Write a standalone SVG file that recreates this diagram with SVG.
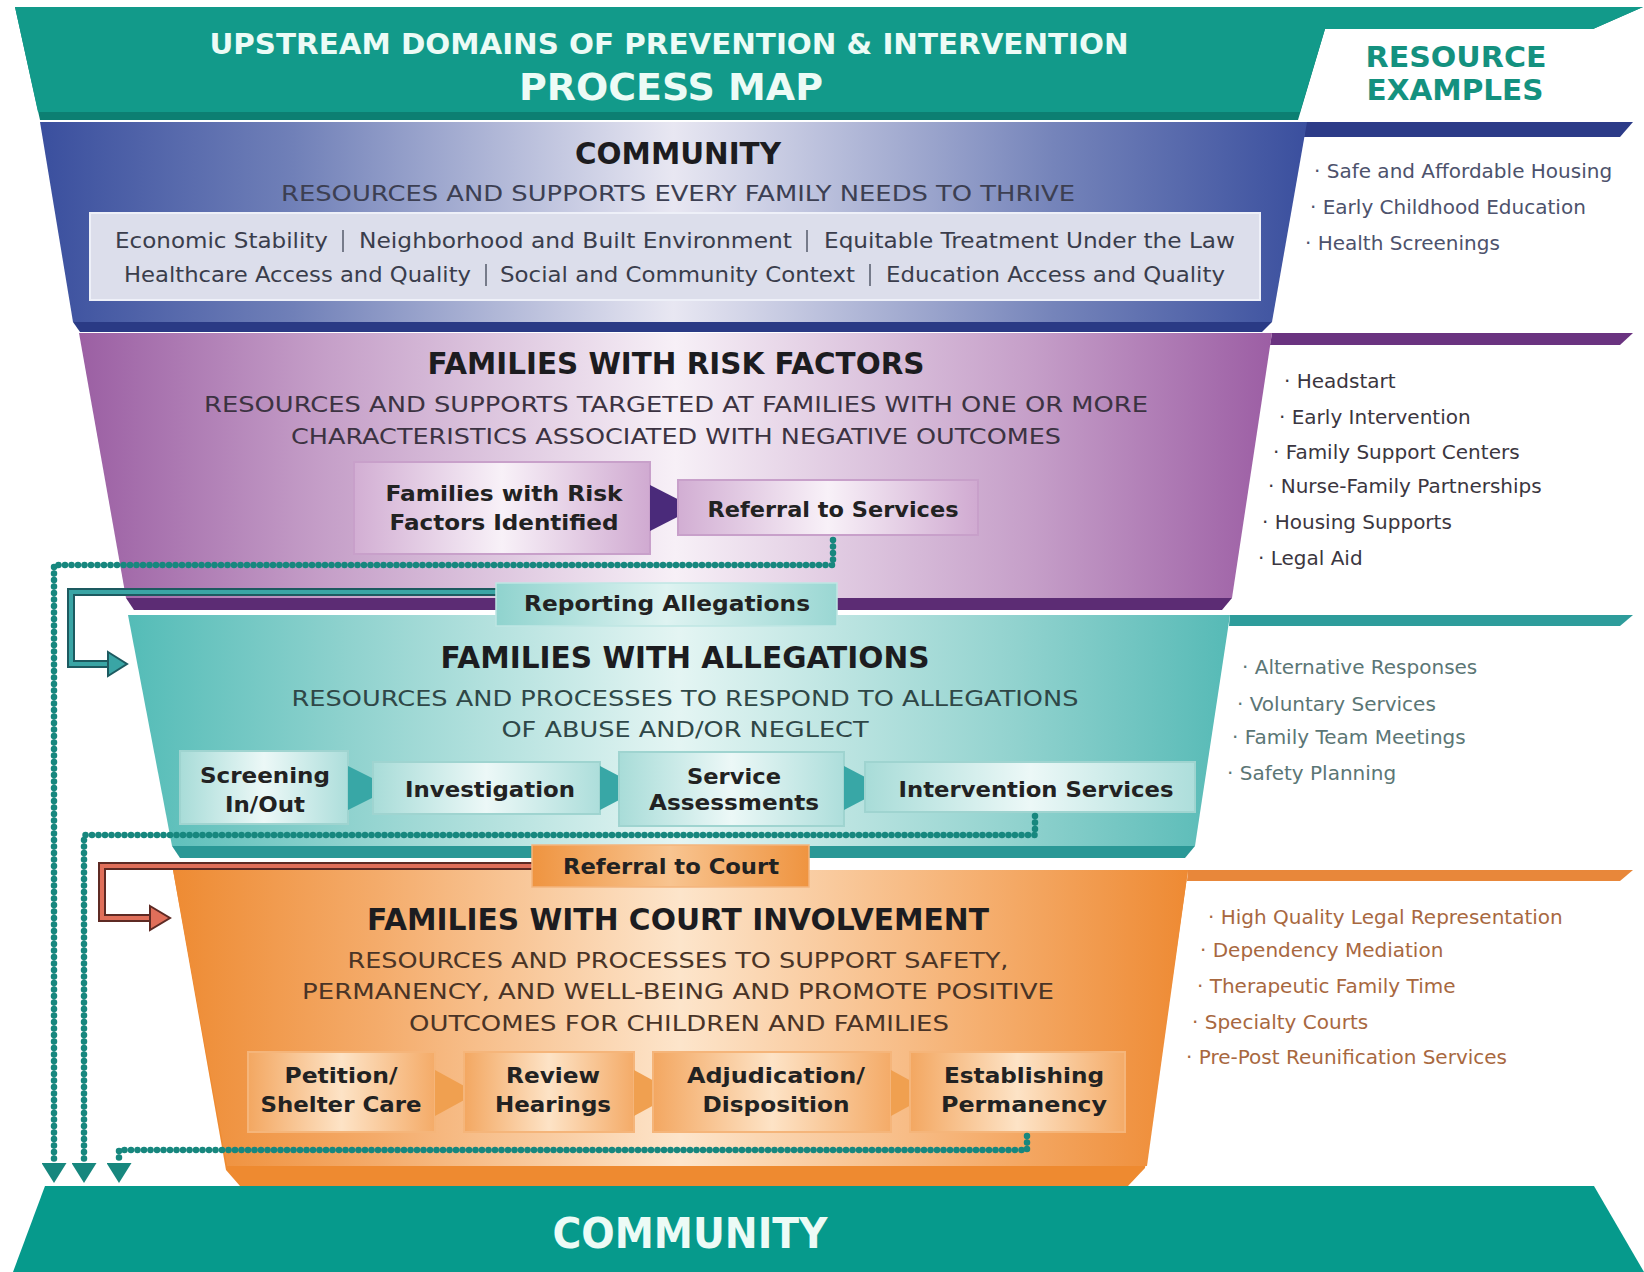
<svg xmlns="http://www.w3.org/2000/svg" width="1644" height="1272" viewBox="0 0 1644 1272">
<defs>
<linearGradient id="gBlue" x1="0" x2="1" y1="0" y2="0">
<stop offset="0" stop-color="#3a4f9e"/><stop offset="0.2" stop-color="#7080b8"/><stop offset="0.5" stop-color="#e8e7f2"/><stop offset="0.8" stop-color="#7584ba"/><stop offset="1" stop-color="#3a4f9e"/>
</linearGradient>
<linearGradient id="gPurple" x1="0" x2="1" y1="0" y2="0">
<stop offset="0" stop-color="#9b5fa3"/><stop offset="0.2" stop-color="#c49dc7"/><stop offset="0.5" stop-color="#f7f0f7"/><stop offset="0.8" stop-color="#c59ec8"/><stop offset="1" stop-color="#9c5ea4"/>
</linearGradient>
<linearGradient id="gTeal" x1="0" x2="1" y1="0" y2="0">
<stop offset="0" stop-color="#54bcb7"/><stop offset="0.2" stop-color="#8fd2ce"/><stop offset="0.5" stop-color="#e4f5f3"/><stop offset="0.8" stop-color="#93d3cf"/><stop offset="1" stop-color="#56bab6"/>
</linearGradient>
<linearGradient id="gOrange" x1="0" x2="1" y1="0" y2="0">
<stop offset="0" stop-color="#ee8b33"/><stop offset="0.2" stop-color="#f4ab6a"/><stop offset="0.5" stop-color="#fde5cb"/><stop offset="0.8" stop-color="#f5ae6e"/><stop offset="1" stop-color="#ee8a33"/>
</linearGradient>
<linearGradient id="gBoxP" x1="0" x2="1" y1="0" y2="0">
<stop offset="0" stop-color="#d2aed3"/><stop offset="0.5" stop-color="#f8f1f8"/><stop offset="1" stop-color="#d0aad1"/>
</linearGradient>
<linearGradient id="gBoxT" x1="0" x2="1" y1="0" y2="0">
<stop offset="0" stop-color="#a8dcd8"/><stop offset="0.5" stop-color="#ecf8f7"/><stop offset="1" stop-color="#addedb"/>
</linearGradient>
<linearGradient id="gBoxO" x1="0" x2="1" y1="0" y2="0">
<stop offset="0" stop-color="#f3a761"/><stop offset="0.5" stop-color="#fde3c6"/><stop offset="1" stop-color="#f4ab68"/>
</linearGradient>
<linearGradient id="gLabT" x1="0" x2="1" y1="0" y2="0">
<stop offset="0" stop-color="#8fd3ce"/><stop offset="0.5" stop-color="#def3f1"/><stop offset="1" stop-color="#9ad7d3"/>
</linearGradient>
<linearGradient id="gLabO" x1="0" x2="1" y1="0" y2="0">
<stop offset="0" stop-color="#ef9440"/><stop offset="0.5" stop-color="#f8c490"/><stop offset="1" stop-color="#ef9440"/>
</linearGradient>
<marker id="mDot" viewBox="0 0 20 25" refX="0" refY="12.5" markerWidth="20" markerHeight="25" markerUnits="userSpaceOnUse" orient="auto">
<path d="M0,0 L20,12.5 L0,25 Z" fill="#17877e"/>
</marker>
<style>
text{font-family:"DejaVu Sans","Liberation Sans",sans-serif;}
.ttl{font-weight:bold;fill:#ecfbf6;text-anchor:middle;}
.hd{font-weight:bold;font-size:30px;fill:#1c1c20;text-anchor:middle;}
.sub{font-size:22px;text-anchor:middle;}
.row{font-size:21px;fill:#3a3d4c;}
.bx{font-weight:bold;font-size:22px;fill:#222;text-anchor:middle;}
.res{font-size:20px;}
.rb{fill:#4d526c;}
.rp{fill:#3b3640;}
.rt{fill:#5b7675;}
.ro{fill:#a8683f;}
.sep{stroke:#555a6a;stroke-width:1.5;}
.dot{fill:none;stroke:#17877e;stroke-width:6.5;stroke-linecap:round;stroke-linejoin:round;stroke-dasharray:0 6.5;marker-end:url(#mDot);}
</style>
</defs>
<rect width="1644" height="1272" fill="#ffffff"/>

<g id="header">
<polygon points="15,7 1643,7 1593,29 1325,29 1298,120 40,120" fill="#0c7f72"/>
<polygon points="15,7 1643,7 1593,29 1325,29 1300,112 38,112" fill="#129a8a"/>
<text class="ttl" x="669" y="54" font-size="28" textLength="919" lengthAdjust="spacingAndGlyphs">UPSTREAM DOMAINS OF PREVENTION &amp; INTERVENTION</text>
<text class="ttl" x="671" y="100" font-size="37" textLength="304" lengthAdjust="spacingAndGlyphs">PROCESS MAP</text>
<text x="1456" y="67" font-size="28" font-weight="bold" fill="#14917f" text-anchor="middle" textLength="181" lengthAdjust="spacingAndGlyphs">RESOURCE</text>
<text x="1455" y="100" font-size="28" font-weight="bold" fill="#14917f" text-anchor="middle" textLength="177" lengthAdjust="spacingAndGlyphs">EXAMPLES</text>
</g>

<g id="band-community">
<polygon points="1305,122 1633,122 1620,137 1304,137" fill="#2c3b88"/>
<polygon points="80,332 1262,332 1272,322 73,322" fill="#2a3a85"/>
<polygon points="40,122 1307,122 1272,322 73,322" fill="url(#gBlue)"/>
<text class="hd" x="678" y="164" textLength="206" lengthAdjust="spacingAndGlyphs">COMMUNITY</text>
<text class="sub" x="678" y="201" fill="#3c3f52" textLength="794" lengthAdjust="spacingAndGlyphs">RESOURCES AND SUPPORTS EVERY FAMILY NEEDS TO THRIVE</text>
<rect x="90" y="213" width="1170" height="87" fill="#dcdeeb" stroke="#eef0f8" stroke-width="2"/>
<text class="row" x="115" y="248" textLength="213" lengthAdjust="spacingAndGlyphs">Economic Stability</text>
<line class="sep" x1="343" y1="230" x2="343" y2="252"/>
<text class="row" x="359" y="248" textLength="433" lengthAdjust="spacingAndGlyphs">Neighborhood and Built Environment</text>
<line class="sep" x1="807" y1="230" x2="807" y2="252"/>
<text class="row" x="824" y="248" textLength="411" lengthAdjust="spacingAndGlyphs">Equitable Treatment Under the Law</text>
<text class="row" x="124" y="282" textLength="347" lengthAdjust="spacingAndGlyphs">Healthcare Access and Quality</text>
<line class="sep" x1="486" y1="264" x2="486" y2="286"/>
<text class="row" x="500" y="282" textLength="355" lengthAdjust="spacingAndGlyphs">Social and Community Context</text>
<line class="sep" x1="870" y1="264" x2="870" y2="286"/>
<text class="row" x="886" y="282" textLength="339" lengthAdjust="spacingAndGlyphs">Education Access and Quality</text>
</g>

<g id="res-community" class="res rb">
<text x="1314" y="178">· Safe and Affordable Housing</text>
<text x="1310" y="214">· Early Childhood Education</text>
<text x="1305" y="250">· Health Screenings</text>
</g>

<g id="band-risk">
<polygon points="1272,333 1633,333 1620,345 1270,345" fill="#6a3380"/>
<polygon points="126,598 1232,598 1222,610 134,610" fill="#5c2c74"/>
<polygon points="79,333 1272,333 1232,598 126,598" fill="url(#gPurple)"/>
<text class="hd" x="676" y="374" textLength="497" lengthAdjust="spacingAndGlyphs">FAMILIES WITH RISK FACTORS</text>
<text class="sub" x="676" y="412" fill="#3c3342" textLength="944" lengthAdjust="spacingAndGlyphs">RESOURCES AND SUPPORTS TARGETED AT FAMILIES WITH ONE OR MORE</text>
<text class="sub" x="676" y="444" fill="#3c3342" textLength="770" lengthAdjust="spacingAndGlyphs">CHARACTERISTICS ASSOCIATED WITH NEGATIVE OUTCOMES</text>
</g>

<g id="node-risk-identified">
<rect x="354" y="462" width="296" height="92" fill="url(#gBoxP)" stroke="#c8a0ca" stroke-width="2"/>
<text class="bx" x="504" y="501" textLength="237" lengthAdjust="spacingAndGlyphs">Families with Risk</text>
<text class="bx" x="504" y="530" textLength="229" lengthAdjust="spacingAndGlyphs">Factors Identified</text>
</g>
<polygon id="arrow-risk" points="650,485 695,508 650,531" fill="#4a2a7a"/>
<g id="node-referral-services">
<rect x="678" y="480" width="300" height="55" fill="url(#gBoxP)" stroke="#c8a0ca" stroke-width="2"/>
<text class="bx" x="833" y="517" textLength="251" lengthAdjust="spacingAndGlyphs">Referral to Services</text>
</g>

<g id="res-risk" class="res rp">
<text x="1284" y="388">· Headstart</text>
<text x="1279" y="424">· Early Intervention</text>
<text x="1273" y="459">· Family Support Centers</text>
<text x="1268" y="493">· Nurse-Family Partnerships</text>
<text x="1262" y="529">· Housing Supports</text>
<text x="1258" y="565">· Legal Aid</text>
</g>

<g id="band-allegations">
<polygon points="1230,615 1633,615 1620,626 1229,626" fill="#2e9c9b"/>
<polygon points="172,846 1195,846 1185,858 180,858" fill="#2a9896"/>
<polygon points="128,615 1230,615 1195,846 172,846" fill="url(#gTeal)"/>
<text class="hd" x="685" y="668" textLength="489" lengthAdjust="spacingAndGlyphs">FAMILIES WITH ALLEGATIONS</text>
<text class="sub" x="685" y="706" fill="#2f4747" textLength="787" lengthAdjust="spacingAndGlyphs">RESOURCES AND PROCESSES TO RESPOND TO ALLEGATIONS</text>
<text class="sub" x="685" y="737" fill="#2f4747" textLength="367" lengthAdjust="spacingAndGlyphs">OF ABUSE AND/OR NEGLECT</text>
</g>

<g id="node-screening">
<rect x="180" y="751" width="168" height="73" fill="url(#gBoxT)" stroke="#9fd4d0" stroke-width="2"/>
<text class="bx" x="265" y="783" textLength="130" lengthAdjust="spacingAndGlyphs">Screening</text>
<text class="bx" x="265" y="812" textLength="80" lengthAdjust="spacingAndGlyphs">In/Out</text>
</g>
<polygon points="348,766 392,788 348,810" fill="#38a7a6"/>
<g id="node-investigation">
<rect x="373" y="762" width="227" height="52" fill="url(#gBoxT)" stroke="#9fd4d0" stroke-width="2"/>
<text class="bx" x="490" y="797" textLength="170" lengthAdjust="spacingAndGlyphs">Investigation</text>
</g>
<polygon points="600,766 642,788 600,810" fill="#38a7a6"/>
<g id="node-service-assessments">
<rect x="619" y="752" width="225" height="74" fill="url(#gBoxT)" stroke="#9fd4d0" stroke-width="2"/>
<text class="bx" x="734" y="784" textLength="94" lengthAdjust="spacingAndGlyphs">Service</text>
<text class="bx" x="734" y="810" textLength="170" lengthAdjust="spacingAndGlyphs">Assessments</text>
</g>
<polygon points="844,766 886,788 844,810" fill="#38a7a6"/>
<g id="node-intervention-services">
<rect x="865" y="762" width="330" height="50" fill="url(#gBoxT)" stroke="#9fd4d0" stroke-width="2"/>
<text class="bx" x="1036" y="797" textLength="275" lengthAdjust="spacingAndGlyphs">Intervention Services</text>
</g>

<g id="res-allegations" class="res rt">
<text x="1242" y="674">· Alternative Responses</text>
<text x="1237" y="711">· Voluntary Services</text>
<text x="1232" y="744">· Family Team Meetings</text>
<text x="1227" y="780">· Safety Planning</text>
</g>

<g id="band-court">
<polygon points="1188,870 1633,870 1620,881 1187,881" fill="#e8873a"/>
<polygon points="173,870 1188,870 1145,1168 1128,1186 240,1186 226,1170" fill="#ee8a30"/>
<polygon points="173,870 1188,870 1147,1166 227,1166" fill="url(#gOrange)"/>
<text class="hd" x="678" y="930" textLength="622" lengthAdjust="spacingAndGlyphs">FAMILIES WITH COURT INVOLVEMENT</text>
<text class="sub" x="678" y="968" fill="#4a3426" textLength="661" lengthAdjust="spacingAndGlyphs">RESOURCES AND PROCESSES TO SUPPORT SAFETY,</text>
<text class="sub" x="678" y="999" fill="#4a3426" textLength="752" lengthAdjust="spacingAndGlyphs">PERMANENCY, AND WELL-BEING AND PROMOTE POSITIVE</text>
<text class="sub" x="679" y="1031" fill="#4a3426" textLength="540" lengthAdjust="spacingAndGlyphs">OUTCOMES FOR CHILDREN AND FAMILIES</text>
</g>

<g id="node-petition">
<rect x="248" y="1052" width="187" height="80" fill="url(#gBoxO)" stroke="#f5b57a" stroke-width="2"/>
<text class="bx" x="341" y="1083" textLength="113" lengthAdjust="spacingAndGlyphs">Petition/</text>
<text class="bx" x="341" y="1112" textLength="161" lengthAdjust="spacingAndGlyphs">Shelter Care</text>
</g>
<polygon points="435,1070 477,1093 435,1116" fill="#f0a050"/>
<g id="node-review">
<rect x="464" y="1052" width="170" height="80" fill="url(#gBoxO)" stroke="#f5b57a" stroke-width="2"/>
<text class="bx" x="553" y="1083" textLength="94" lengthAdjust="spacingAndGlyphs">Review</text>
<text class="bx" x="553" y="1112" textLength="116" lengthAdjust="spacingAndGlyphs">Hearings</text>
</g>
<polygon points="634,1070 676,1093 634,1116" fill="#f0a050"/>
<g id="node-adjudication">
<rect x="653" y="1052" width="238" height="80" fill="url(#gBoxO)" stroke="#f5b57a" stroke-width="2"/>
<text class="bx" x="776" y="1083" textLength="178" lengthAdjust="spacingAndGlyphs">Adjudication/</text>
<text class="bx" x="776" y="1112" textLength="147" lengthAdjust="spacingAndGlyphs">Disposition</text>
</g>
<polygon points="891,1070 933,1093 891,1116" fill="#f0a050"/>
<g id="node-permanency">
<rect x="910" y="1052" width="215" height="80" fill="url(#gBoxO)" stroke="#f5b57a" stroke-width="2"/>
<text class="bx" x="1024" y="1083" textLength="160" lengthAdjust="spacingAndGlyphs">Establishing</text>
<text class="bx" x="1024" y="1112" textLength="166" lengthAdjust="spacingAndGlyphs">Permanency</text>
</g>

<g id="res-court" class="res ro">
<text x="1208" y="924">· High Quality Legal Representation</text>
<text x="1200" y="957">· Dependency Mediation</text>
<text x="1197" y="993">· Therapeutic Family Time</text>
<text x="1192" y="1029">· Specialty Courts</text>
<text x="1186" y="1064">· Pre-Post Reunification Services</text>
</g>

<g id="band-community-bottom">
<polygon points="45,1186 1594,1186 1644,1272 13,1272" fill="#069a8c"/>
<text class="ttl" x="690" y="1248" font-size="42" textLength="275" lengthAdjust="spacingAndGlyphs">COMMUNITY</text>
</g>

<g id="connectors">
<path d="M497,592 H71 V664 H110" fill="none" stroke="#1d5a60" stroke-width="8"/>
<path d="M497,592 H71 V664 H110" fill="none" stroke="#3aa5a5" stroke-width="4"/>
<polygon points="108,652 127,664 108,676" fill="#3aa5a5" stroke="#1d5a60" stroke-width="2"/>
<path d="M532,866 H102 V918 H152" fill="none" stroke="#5e2a24" stroke-width="8"/>
<path d="M532,866 H102 V918 H152" fill="none" stroke="#e06f5a" stroke-width="4"/>
<polygon points="150,906 170,918 150,930" fill="#e06f5a" stroke="#5e2a24" stroke-width="2"/>
<path class="dot" d="M833,540 V565 H54 V1163"/>
<path class="dot" d="M1035,816 V835 H84 V1163"/>
<path class="dot" d="M1027,1136 V1150 H119 V1163"/>
</g>

<g id="label-reporting">
<rect x="496" y="583" width="341" height="43" fill="url(#gLabT)" stroke="#bfe6e3" stroke-width="1.5"/>
<text class="bx" x="667" y="611" textLength="286" lengthAdjust="spacingAndGlyphs">Reporting Allegations</text>
</g>
<g id="label-referral-court">
<rect x="532" y="845" width="277" height="42" fill="url(#gLabO)" stroke="#f3b57e" stroke-width="1.5"/>
<text class="bx" x="671" y="874" textLength="216" lengthAdjust="spacingAndGlyphs">Referral to Court</text>
</g>
</svg>
